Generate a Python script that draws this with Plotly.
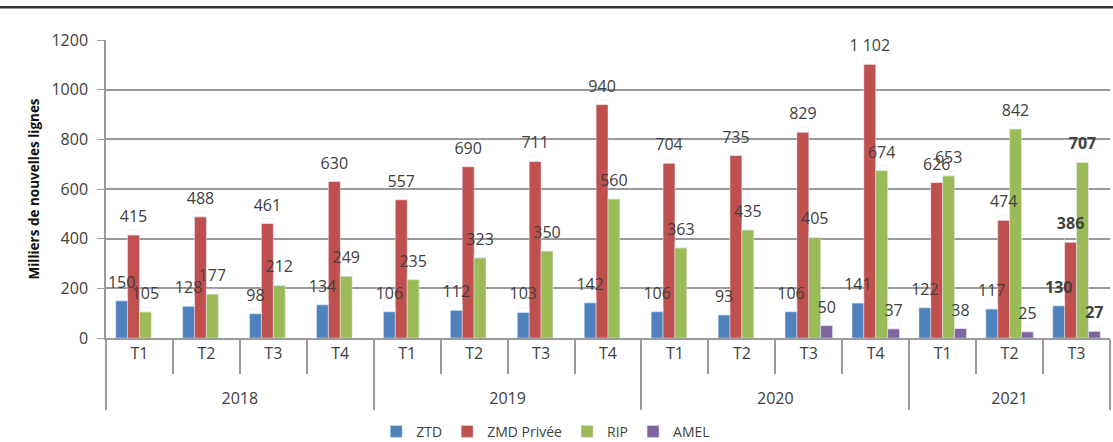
import plotly.graph_objects as go

# Nouvelles lignes FttH par trimestre (milliers)
years = ["2018"] * 4 + ["2019"] * 4 + ["2020"] * 4 + ["2021"] * 3
quarters = ["T1", "T2", "T3", "T4"] * 3 + ["T1", "T2", "T3"]

ztd = [150, 128, 98, 134, 106, 112, 103, 142, 106, 93, 106, 141, 122, 117, 130]
zmd_privee = [415, 488, 461, 630, 557, 690, 711, 940, 704, 735, 829, 1102, 626, 474, 386]
rip = [105, 177, 212, 249, 235, 323, 350, 560, 363, 435, 405, 674, 653, 842, 707]
amel = [None] * 10 + [50, 37, 38, 25, 27]

series = [
    ("ZTD", ztd, "#4F81BD"),
    ("ZMD Privée", zmd_privee, "#C0504D"),
    ("RIP", rip, "#9BBB59"),
    ("AMEL", amel, "#8064A2"),
]

FONT = "Open Sans"
GREY = "#9a9a9a"
TXT = "#404040"
LABEL_LIFT = 20  # extra gap between bar top and its label, in axis units


def _labels(values):
    """Data labels: space as thousands separator, last quarter in bold."""
    out = []
    for i, v in enumerate(values):
        if v is None:
            out.append("")
            continue
        s = f"{v:,}".replace(",", " ")
        if i == len(values) - 1:
            s = f"<b>{s}</b>"
        out.append(s)
    return out


# extra blank line under the quarter labels pushes the year row down
x_cats = [years, [q + "<br>\u00a0" for q in quarters]]

fig = go.Figure()
for name, values, color in series:
    fig.add_trace(go.Bar(
        x=x_cats, y=values, name=name, marker_color=color,
        offsetgroup=name,
    ))

# labels drawn on top of every bar, in the same slot as their bar
for name, values, color in series:
    fig.add_trace(go.Bar(
        x=x_cats,
        y=[None if v is None else LABEL_LIFT for v in values],
        base=values,
        offsetgroup=name,
        marker_color="rgba(0,0,0,0)",
        text=_labels(values),
        textposition="outside",
        constraintext="none",
        cliponaxis=False,
        textfont=dict(family=FONT, size=16, color=TXT),
        showlegend=False,
        hoverinfo="skip",
    ))

fig.update_layout(
    width=1113,
    height=442,
    margin=dict(l=106, r=3, t=40, b=104),
    paper_bgcolor="white",
    plot_bgcolor="white",
    barmode="group",
    bargap=0.29,
    bargroupgap=0,
    font=dict(family=FONT, size=16, color=TXT),
    xaxis=dict(
        type="multicategory",
        automargin=False,
        showline=True,
        linecolor=GREY,
        linewidth=1.5,
        ticks="outside",
        ticklen=34,
        tickcolor=GREY,
        tickwidth=1.5,
        showdividers=True,
        dividercolor=GREY,
        dividerwidth=1.5,
        tickfont=dict(family=FONT, size=16, color=TXT),
    ),
    yaxis=dict(
        automargin=False,
        range=[0, 1200],
        dtick=200,
        showgrid=True,
        gridcolor=GREY,
        gridwidth=1.5,
        showline=True,
        linecolor=GREY,
        linewidth=1.5,
        ticks="outside",
        ticklen=7,
        tickcolor=GREY,
        ticklabelstandoff=6,
        zeroline=False,
        tickfont=dict(family=FONT, size=16, color=TXT),
        title=dict(text="<b>Milliers de nouvelles lignes</b>",
                   font=dict(family=FONT, size=13.5, color="#111"),
                   standoff=9),
    ),
    legend=dict(
        orientation="h",
        x=0.438, xanchor="center",
        yref="container",
        y=0.023, yanchor="middle",
        font=dict(family=FONT, size=14, color=TXT),
        itemwidth=30,
        traceorder="normal",
    ),
    shapes=[dict(
        type="line", xref="paper", yref="paper",
        x0=-0.106, x1=1.003, y0=1.11, y1=1.11,
        line=dict(color="#333", width=2.5),
    )],
)

# page without body margin so the 1113x442 figure fills the window exactly
fig.write_html(
    "out.html",
    config={"displayModeBar": False},
    post_script="document.body.style.margin='0';document.body.style.overflow='hidden';",
)
